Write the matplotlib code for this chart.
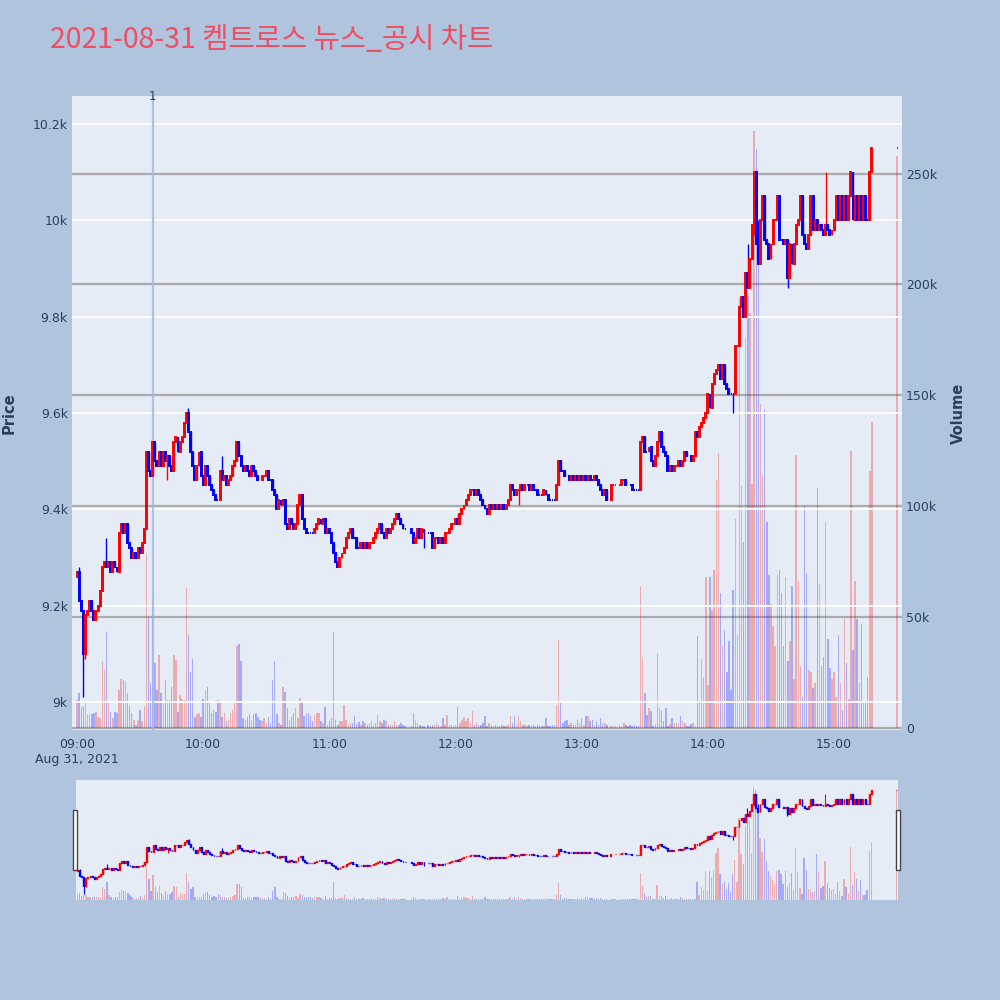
import matplotlib
matplotlib.use('Agg')
import matplotlib.pyplot as plt
import matplotlib.dates as mdates
from matplotlib.patches import Rectangle
from matplotlib.ticker import FixedLocator, FuncFormatter
import pandas as pd

plt.rcParams['font.family'] = ['DejaVu Sans']

# 차트 데이터 (1분봉, 09:00 부터; None = 체결 없음)
title = '2021-08-31 켐트로스 뉴스_공시 차트'
session_start = '2021-08-31 09:00'
first_open = 9260

close_px = [
    9270, 9210, 9190, 9100, 9180, 9190, 9210, 9190, 9170, 9190,
    9200, 9230, 9280, 9290, 9280, 9290, 9270, 9290, 9280, 9270,
    9350, 9370, 9350, 9370, 9330, 9320, 9300, 9310, 9300, 9320,
    9310, 9330, 9360, 9520, 9480, 9470, 9540, 9500, 9490, 9520,
    9490, 9520, 9500, 9510, 9490, 9480, 9540, 9550, 9520, 9540,
    9550, 9580, 9600, 9560, 9520, 9490, 9460, 9490, 9520, 9470,
    9450, 9490, 9470, 9450, 9440, 9430, 9420, 9420, 9480, 9460,
    9470, 9450, 9460, 9470, 9490, 9500, 9540, 9510, 9490, 9480,
    9490, 9480, 9470, 9490, 9480, 9470, 9460, 9460, 9470, 9470,
    9480, 9460, 9460, 9440, 9430, 9400, 9420, 9410, 9420, 9370,
    9360, 9380, 9370, 9360, 9370, 9410, 9430, 9380, 9360, 9350,
    9350, 9350, 9350, 9360, 9370, 9380, 9370, 9380, 9350, 9360,
    9350, 9330, 9310, 9290, 9280, 9300, 9310, 9320, 9340, 9350,
    9360, 9340, 9340, 9320, 9320, 9330, 9320, 9330, 9320, 9330,
    9330, 9340, 9350, 9360, 9370, 9350, 9340, 9360, 9350, 9360,
    9370, 9380, 9390, 9380, 9370, 9360, 9360, None, None, 9350,
    9330, 9340, 9360, 9340, 9360, 9350, None, 9350, 9350, 9320,
    9340, 9340, 9330, 9340, 9330, 9350, 9350, 9360, 9370, 9370,
    9380, 9370, 9390, 9400, 9410, 9420, 9430, 9440, 9440, 9430,
    9440, 9430, 9420, 9410, 9400, 9390, 9410, 9400, 9410, 9400,
    9410, 9400, 9410, 9400, 9410, 9420, 9450, 9440, 9430, 9440,
    9440, 9450, 9440, 9450, 9450, 9440, 9450, 9440, 9440, 9430,
    9430, 9430, 9440, 9430, 9420, 9420, 9420, 9420, 9450, 9500,
    9480, 9480, 9470, 9470, 9460, 9470, 9460, 9470, 9460, 9470,
    9460, 9470, 9460, 9470, 9460, 9460, 9470, 9460, 9450, 9440,
    9430, 9440, 9420, None, 9450, 9450, 9450, None, 9450, 9460,
    9460, 9450, 9450, 9450, 9440, 9440, 9440, 9440, 9540, 9550,
    9520, 9520, 9530, 9500, 9490, 9510, 9540, 9560, 9530, 9520,
    9510, 9480, 9490, 9480, 9490, 9490, 9500, 9490, 9500, 9520,
    9510, 9510, 9500, 9510, 9560, 9550, 9570, 9580, 9590, 9600,
    9640, 9610, 9660, 9680, 9690, 9700, 9670, 9700, 9660, 9650,
    9640, 9640, 9640, 9740, 9740, 9820, 9840, 9800, 9890, 9860,
    9920, 9990, 10100, 9950, 9910, 10000, 10050, 9960, 9950, 9920,
    9950, 10000, 10000, 10050, 9960, 9960, 9950, 9960, 9880, 9950,
    9910, 9950, 9990, 10000, 10050, 9970, 9950, 9940, 9970, 10050,
    9980, 10000, 9980, 9990, 9980, 9970, 9990, 9980, 9970, 9980,
    10000, 10050, 10000, 10050, 10000, 10050, 10000, 10050, 10100, 10000,
    10050, 10000, 10050, 10000, 10050, 10000, 10000, 10100, 10150,
]

# 거래량 (천주)
volume_k = [
    12.6, 15.6, 9.6, 10, 11, 6, 6, 6, 6.6, 7,
    5, 4.5, 30, 26, 43, 12, 7, 4.5, 7, 6.6,
    17, 22, 21.6, 21, 15.6, 10, 6.6, 3.6, 1.4, 3.6,
    8, 3, 10, 79, 50, 20, 58, 29, 17, 33,
    15.6, 11, 21.6, 12.6, 12.6, 18.6, 33, 30.6, 7, 15,
    13, 12.6, 63, 42, 25, 31, 5, 6, 6.6, 5,
    13, 17, 18.6, 12, 6.6, 8, 7, 12.6, 12, 5,
    6.6, 3, 3.6, 6.6, 8, 11, 37, 38, 30, 4.4,
    3.6, 5, 6, 3.6, 6, 6.6, 5, 3.6, 3, 4.4,
    2, 5, 2, 21.6, 30, 6, 2, 1.4, 18.6, 16,
    9, 3.6, 5, 6.6, 9, 4.4, 13.4, 11.9, 5.1, 6.6,
    6.6, 5.1, 2.9, 5.9, 6.6, 6.6, 2.9, 2.1, 9.6, 1.4,
    2.9, 4.4, 43, 3.6, 1.4, 2.9, 2.9, 10.4, 3.6, 1.4,
    2.1, 2.1, 5.1, 1.5, 2.5, 1.4, 2.9, 2.1, 1.4, 2.1,
    2.9, 1.4, 2.1, 5.9, 2.9, 2.1, 3.6, 2.9, 1.4, 1.4,
    1.4, 2.9, 1.4, 1.4, 2.1, 1.4, 0.6, 0, 0, 0.6,
    6.6, 3.6, 2.1, 1.4, 0.6, 0.6, 0, 1.4, 0.6, 1.4,
    1.4, 2.1, 1.4, 0.6, 4.4, 1.4, 5.9, 1.4, 1.4, 0.6,
    1.4, 9.6, 2.1, 3.6, 5, 2.9, 4.4, 2.1, 7.4, 1.4,
    2.1, 1.4, 1.4, 2.1, 5.1, 0.6, 2.1, 1.4, 0.6, 1.4,
    0.6, 0.6, 1.4, 0.6, 0.6, 1.4, 5.1, 2.1, 5.1, 1.4,
    5.1, 2.9, 1.4, 1.4, 0.6, 1.4, 0.6, 1.4, 0.6, 1.4,
    1.4, 0.6, 0.6, 4.4, 0.6, 0.6, 1.4, 1.4, 10.4, 39.6,
    11.1, 2.1, 2.9, 3.6, 1.4, 2.1, 1.4, 1.4, 3.6, 2.1,
    4.4, 1.4, 5.1, 5.1, 2.9, 3.6, 1.4, 2.9, 1.4, 4.4,
    2.1, 2.1, 1.4, 0, 0.6, 0.6, 0.6, 0, 1.4, 0.6,
    2.1, 1.4, 0.6, 1.4, 0.6, 1.4, 0.6, 0.6, 64, 32,
    15.6, 5.9, 8.9, 7.4, 1, 1.5, 33.6, 8.9, 7.4, 3,
    8.9, 1, 1.5, 4.4, 2, 2, 2, 5.1, 3, 2,
    1, 1, 1.5, 2, 1, 41.5, 11, 31, 23, 68,
    19.5, 68, 53, 71, 112, 124, 61, 37, 44, 25,
    39, 17, 62, 94, 42, 194, 109, 84, 176, 195,
    187, 110, 269, 261, 209, 146, 114, 144, 93, 69,
    56, 46, 37, 69, 71, 61, 37, 68, 30, 39,
    64, 22, 123, 66, 28, 14, 100, 70, 26, 25,
    18, 20, 108, 65, 28, 32, 93, 40, 27, 22,
    25, 14, 42, 20, 8, 49, 29, 13, 125, 35,
    66, 49, 20, 47, 11, 12, 23, 116, 138,
]

# 꼬리 (분 인덱스 -> 가격)
hi_wick = {1: 9280, 14: 9340, 53: 9610, 69: 9510, 107: 9430, 181: 9390,
           319: 9950, 324: 10000, 356: 10100}
lo_wick = {3: 9010, 4: 9090, 43: 9460, 165: 9320, 210: 9410, 312: 9600,
           322: 9970, 338: 9860}

# 동시호가
auction_time = '2021-08-31 15:30'
auction_px = 10150
auction_vol_k = 258

# 뉴스 시각
news_time = '2021-08-31 09:36'
news_label = '1'

# OHLC 만들기
n = min(len(close_px), len(volume_k))
times = pd.date_range(session_start, periods=n, freq='min')
T, O, H, L, C, V, UP = [], [], [], [], [], [], []
prev = first_open
last_up = True
for i in range(n):
    cp = close_px[i]
    if cp is None:
        continue
    op = prev
    if cp > op:
        up = True
    elif cp < op:
        up = False
    else:
        up = last_up
    T.append(times[i])
    O.append(op)
    C.append(cp)
    H.append(max(op, cp, hi_wick.get(i, cp)))
    L.append(min(op, cp, lo_wick.get(i, cp)))
    V.append(volume_k[i] * 1000)
    UP.append(up)
    prev = cp
    last_up = up

# 종가 동시호가
T.append(pd.Timestamp(auction_time))
O.append(auction_px)
C.append(auction_px)
H.append(auction_px)
L.append(auction_px)
V.append(auction_vol_k * 1000)
UP.append(auction_px >= prev)

X = mdates.date2num(pd.DatetimeIndex(T).to_pydatetime())
one_min = 1 / 1440
t0 = mdates.date2num(pd.Timestamp(session_start).to_pydatetime())

RED = '#FF0000'
BLUE = '#0000FF'
cols = [RED if u else BLUE for u in UP]
TXT = '#2a3f5f'
BG = '#E5ECF6'


def draw(ax, axv, body_w, body_lw, wick_lw, vol_w):
    axv.bar(X, V, width=vol_w * one_min, color=cols, alpha=0.28, linewidth=0)
    ax.vlines(X, L, H, colors=cols, linewidth=wick_lw, zorder=3)
    bottoms = [min(o, c) for o, c in zip(O, C)]
    heights = [abs(c - o) for o, c in zip(O, C)]
    ax.bar(X, heights, bottom=bottoms, width=body_w * one_min, color=cols,
           edgecolor=cols, linewidth=body_lw, zorder=4)


fig = plt.figure(figsize=(10, 10), dpi=100, facecolor='#B0C4DE')

# 메인 차트
ax = fig.add_axes([0.072, 0.27, 0.83, 0.634])
axv = ax.twinx()
ax.set_zorder(axv.get_zorder() + 1)
ax.patch.set_visible(False)
axv.patch.set_visible(True)
axv.set_facecolor(BG)

draw(ax, axv, 0.45, 1.4, 1.0, 0.7)

ax.set_xlim(t0 - 2.4 * one_min, t0 + 392.3 * one_min)
ax.set_ylim(8942, 10258)
axv.set_ylim(-1000, 285000)

price_ticks = [9000, 9200, 9400, 9600, 9800, 10000, 10200]
ax.yaxis.set_major_locator(FixedLocator(price_ticks))
ax.yaxis.set_major_formatter(FuncFormatter(lambda v, p: f'{v / 1000:g}k'))
vol_ticks = [0, 50000, 100000, 150000, 200000, 250000]
axv.yaxis.set_major_locator(FixedLocator(vol_ticks))
axv.yaxis.set_major_formatter(FuncFormatter(lambda v, p: '0' if v == 0 else f'{v / 1000:g}k'))

hours = [t0 + h / 24 for h in range(7)]
ax.xaxis.set_major_locator(FixedLocator(hours))


def xfmt(v, p):
    d = mdates.num2date(v)
    s = d.strftime('%H:%M')
    if p == 0:
        s += '\n' + d.strftime('%b %d, %Y').replace(' 0', ' ')
    return s


ax.xaxis.set_major_formatter(FuncFormatter(xfmt))

ax.grid(axis='y', color='white', linewidth=1.3, zorder=0)
axv.grid(axis='y', color='#ababab', linewidth=1.6)
ax.grid(axis='x', visible=False)
ax.set_axisbelow(True)
axv.set_axisbelow(True)

for a in (ax, axv):
    for s in a.spines.values():
        s.set_visible(False)
ax.tick_params(axis='both', length=0, labelsize=9, labelcolor=TXT)
ax.tick_params(axis='x', pad=6)
ax.tick_params(axis='y', pad=3)
axv.tick_params(axis='y', length=0, labelsize=9, labelcolor=TXT, pad=3)

ax.set_ylabel('Price', fontsize=10.5, fontweight='bold', color=TXT, labelpad=12)
axv.set_ylabel('Volume', fontsize=10.5, fontweight='bold', color=TXT, labelpad=10)

# 뉴스 표시선
news_x = mdates.date2num(pd.Timestamp(news_time).to_pydatetime())
ax.axvline(news_x, color='#9fb5ea', linewidth=1.6, alpha=0.8, zorder=2)
ax.text(news_x, 1.0, news_label, transform=ax.get_xaxis_transform(),
        ha='center', va='center', fontsize=8.5, color=TXT)

# 제목
fig.text(0.05, 0.96, title, fontsize=20.5, color='#EE4F64', ha='left', va='center',
         family=['Noto Sans CJK KR', 'DejaVu Sans'])

# 레인지 슬라이더
rs = fig.add_axes([0.076, 0.100, 0.822, 0.120])
rsv = rs.twinx()
rs.set_zorder(rsv.get_zorder() + 1)
rs.patch.set_visible(False)
rsv.patch.set_visible(True)
rsv.set_facecolor(BG)
draw(rs, rsv, 0.45, 1.0, 0.8, 0.6)
rs.set_xlim(t0 - 0.7 * one_min, t0 + 390.7 * one_min)
rs.set_ylim(8942, 10258)
rsv.set_ylim(-1000, 285000)
for a in (rs, rsv):
    a.set_xticks([])
    a.set_yticks([])
    for s in a.spines.values():
        s.set_visible(False)

for hx in (0.0725, 0.8955):
    fig.add_artist(Rectangle((hx, 0.13), 0.0045, 0.06, transform=fig.transFigure,
                             facecolor='white', edgecolor='#444444', linewidth=1))

fig.savefig('out.png', dpi=100, facecolor=fig.get_facecolor())
